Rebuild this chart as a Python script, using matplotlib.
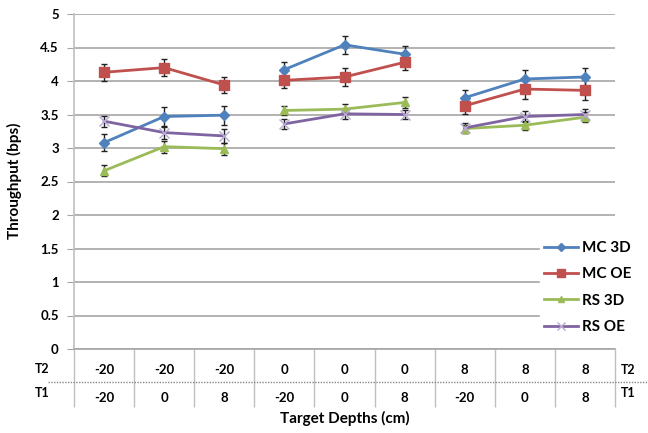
import numpy as np
import matplotlib.pyplot as plt
from matplotlib.lines import Line2D
import matplotlib.transforms as mtransforms

plt.rcParams['font.family'] = ['Lato', 'DejaVu Sans']
plt.rcParams['font.weight'] = 'bold'

t2_labels = ['-20', '-20', '-20', '0', '0', '0', '8', '8', '8']
t1_labels = ['-20', '0', '8', '-20', '0', '8', '-20', '0', '8']

series_names = ['MC 3D', 'MC OE', 'RS 3D', 'RS OE']
mc_3d = [3.08, 3.47, 3.49, 4.17, 4.54, 4.40, 3.75, 4.03, 4.06]
mc_oe = [4.13, 4.20, 3.94, 4.01, 4.06, 4.28, 3.63, 3.88, 3.86]
rs_3d = [2.66, 3.02, 2.99, 3.56, 3.58, 3.68, 3.29, 3.34, 3.46]
rs_oe = [3.40, 3.23, 3.18, 3.36, 3.51, 3.50, 3.30, 3.47, 3.50]

mc_3d_err = [0.13, 0.14, 0.14, 0.12, 0.13, 0.12, 0.11, 0.14, 0.13]
mc_oe_err = [0.13, 0.13, 0.12, 0.12, 0.14, 0.12, 0.12, 0.15, 0.15]
rs_3d_err = [0.08, 0.09, 0.09, 0.07, 0.07, 0.08, 0.06, 0.07, 0.07]
rs_oe_err = [0.08, 0.09, 0.10, 0.08, 0.07, 0.06, 0.07, 0.08, 0.08]

values = [mc_3d, mc_oe, rs_3d, rs_oe]
errors = [mc_3d_err, mc_oe_err, rs_3d_err, rs_oe_err]
colors = ['#4F81BD', '#C0504D', '#9BBB59', '#8064A2']
markers = ['D', 's', '^', 'x']
msizes = [5, 7, 6, 7]

fig = plt.figure(figsize=(6.48, 4.33), dpi=100)
ax = fig.add_axes([74/648, 1-349/433, (615-74)/648, (349-14)/433])

x = np.arange(9)
handles = []
for vals, errs, c, m, ms, name in zip(values, errors, colors, markers, msizes, series_names):
	mec = '#b9a9d0' if m == 'x' else c
	ax.errorbar(x, vals, yerr=errs, fmt='none', ecolor='#222222', elinewidth=1,
		capsize=2, capthick=1, zorder=3)
	for g in range(3):
		sl = slice(g*3, g*3+3)
		ax.plot(x[sl], vals[sl], color=c, marker=m, markersize=ms,
			markeredgewidth=1, markeredgecolor=mec, lw=2, zorder=4)
	handles.append(Line2D([], [], color=c, marker=m, markersize=ms-1, markeredgewidth=1,
		markeredgecolor=mec, lw=2, label=name))

ax.set_xlim(-0.5, 8.5)
ax.set_ylim(0, 5)
ax.set_yticks(np.arange(0, 5.01, 0.5))
ax.set_yticklabels(['0', '0.5', '1', '1.5', '2', '2.5', '3', '3.5', '4', '4.5', '5'])
ax.yaxis.grid(True, color='#a6a6a6', lw=1.2)
ax.set_axisbelow(True)
ax.tick_params(axis='y', length=5, color='#a6a6a6', labelsize=9.5, pad=6)
for s in ['top', 'right']:
	ax.spines[s].set_visible(False)
ax.spines['left'].set_color('#bfbfbf')
ax.spines['left'].set_linewidth(1.2)
ax.spines['bottom'].set_color('#a6a6a6')
ax.spines['bottom'].set_linewidth(1.2)

ax.set_xticks([])
ax.set_xticks(np.arange(-0.5, 9, 1), minor=True)
ax.tick_params(axis='x', which='minor', length=42, color='#bfbfbf', width=1)

trans = mtransforms.blended_transform_factory(ax.transData, fig.transFigure)
for i in range(9):
	ax.text(x[i], 1-370/433, t2_labels[i], transform=trans, ha='center', va='center', fontsize=9.5)
	ax.text(x[i], 1-398/433, t1_labels[i], transform=trans, ha='center', va='center', fontsize=9.5)

fig.text(42/648, 1-369/433, 'T2', ha='center', va='center', fontsize=9)
fig.text(42/648, 1-393/433, 'T1', ha='center', va='center', fontsize=9)
fig.text(628/648, 1-370/433, 'T2', ha='center', va='center', fontsize=9)
fig.text(628/648, 1-393/433, 'T1', ha='center', va='center', fontsize=9)
fig.add_artist(Line2D([48/648, 1.0], [1-382/433, 1-382/433], transform=fig.transFigure,
	color='#888888', lw=1, ls=(0, (1, 1))))

fig.text(345/648, 1-418/433, 'Target Depths (cm)', ha='center', va='center', fontsize=11)
fig.text(14/648, 1-181/433, 'Throughput (bps)', ha='center', va='center', rotation=90, fontsize=11)

leg = ax.legend(handles=handles, loc='upper left', bbox_to_anchor=(532/648, 1-229/433),
	bbox_transform=fig.transFigure, frameon=True, facecolor='white', edgecolor='white',
	framealpha=1, fontsize=11, handlelength=2.2, handletextpad=0.3, labelspacing=0.8, borderpad=0.3)

fig.savefig('out.png', dpi=100)
